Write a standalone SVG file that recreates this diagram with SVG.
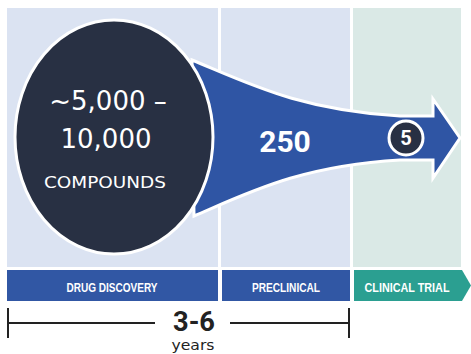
<svg xmlns="http://www.w3.org/2000/svg" width="471" height="354" viewBox="0 0 471 354">
<style>
.bg{fill:#dbe3f2}
.bgc{fill:#dae9e6}
.bar{fill:#3157a4}
.barc{fill:#2b9f91}
.lbl{font-family:"Liberation Sans",Arial,sans-serif;font-weight:bold;font-size:12.5px;fill:#fff;text-anchor:middle}
.big{font-family:"DejaVu Sans",sans-serif;font-size:26px;fill:#fff;text-anchor:middle}
.num{font-family:Roboto,"Liberation Sans",sans-serif;font-weight:bold;fill:#fff;text-anchor:middle}
.tl{stroke:#222;stroke-width:2;fill:none}
</style>
<rect width="471" height="354" fill="#fff"/>
<g id="panels">
<rect class="bg" x="7" y="8" width="211" height="259"/>
<rect class="bg" x="221" y="8" width="129" height="259"/>
<rect class="bgc" x="353" y="8" width="108" height="259"/>
</g>
<g id="connectors">
<path d="M192,60 C250,84 300,110 400,116 L433,116 L433,99 L460,138 L433,178 L433,160 L400,160 C300,166 250,192 194,216 Z" fill="#2f55a4" stroke="#fff" stroke-width="3" stroke-linejoin="miter"/>
</g>
<g id="node-compounds">
<ellipse cx="114" cy="137" rx="99" ry="117" fill="#283043" stroke="#fff" stroke-width="3"/>
<text class="big" x="108" y="110">~5,000 –</text>
<text class="big" x="106" y="148">10,000</text>
<text x="105" y="188" font-family="'DejaVu Sans',sans-serif" font-size="15" fill="#fff" text-anchor="middle" textLength="122" lengthAdjust="spacingAndGlyphs">COMPOUNDS</text>
</g>
<g id="node-250">
<text class="num" x="285" y="152" font-size="30">250</text>
</g>
<g id="node-5">
<circle cx="406" cy="138" r="17" fill="#283043" stroke="#fff" stroke-width="3"/>
<text class="num" x="406" y="145" font-size="20">5</text>
</g>
<g id="node-drug-discovery">
<rect class="bar" x="7" y="270" width="211" height="31"/>
<text class="lbl" x="112" y="292" textLength="91" lengthAdjust="spacingAndGlyphs">DRUG DISCOVERY</text>
</g>
<g id="node-preclinical">
<rect class="bar" x="222" y="270" width="128" height="31"/>
<text class="lbl" x="286" y="292" textLength="68" lengthAdjust="spacingAndGlyphs">PRECLINICAL</text>
</g>
<g id="node-clinical">
<path class="barc" d="M354,270 L462,270 L471,285.5 L462,301 L354,301 Z"/>
<text class="lbl" x="407" y="292" textLength="85" lengthAdjust="spacingAndGlyphs">CLINICAL TRIAL</text>
</g>
<g id="timeline">
<path class="tl" d="M8,308 V338 M8,323 H155 M230,323 H349 M349,308 V338"/>
<text class="num" x="194" y="331" font-size="28" style="fill:#222" textLength="42" lengthAdjust="spacingAndGlyphs">3-6</text>
<text x="193" y="350" font-family="'DejaVu Sans',sans-serif" font-size="14" fill="#222" text-anchor="middle" textLength="43" lengthAdjust="spacingAndGlyphs">years</text>
</g>
</svg>
